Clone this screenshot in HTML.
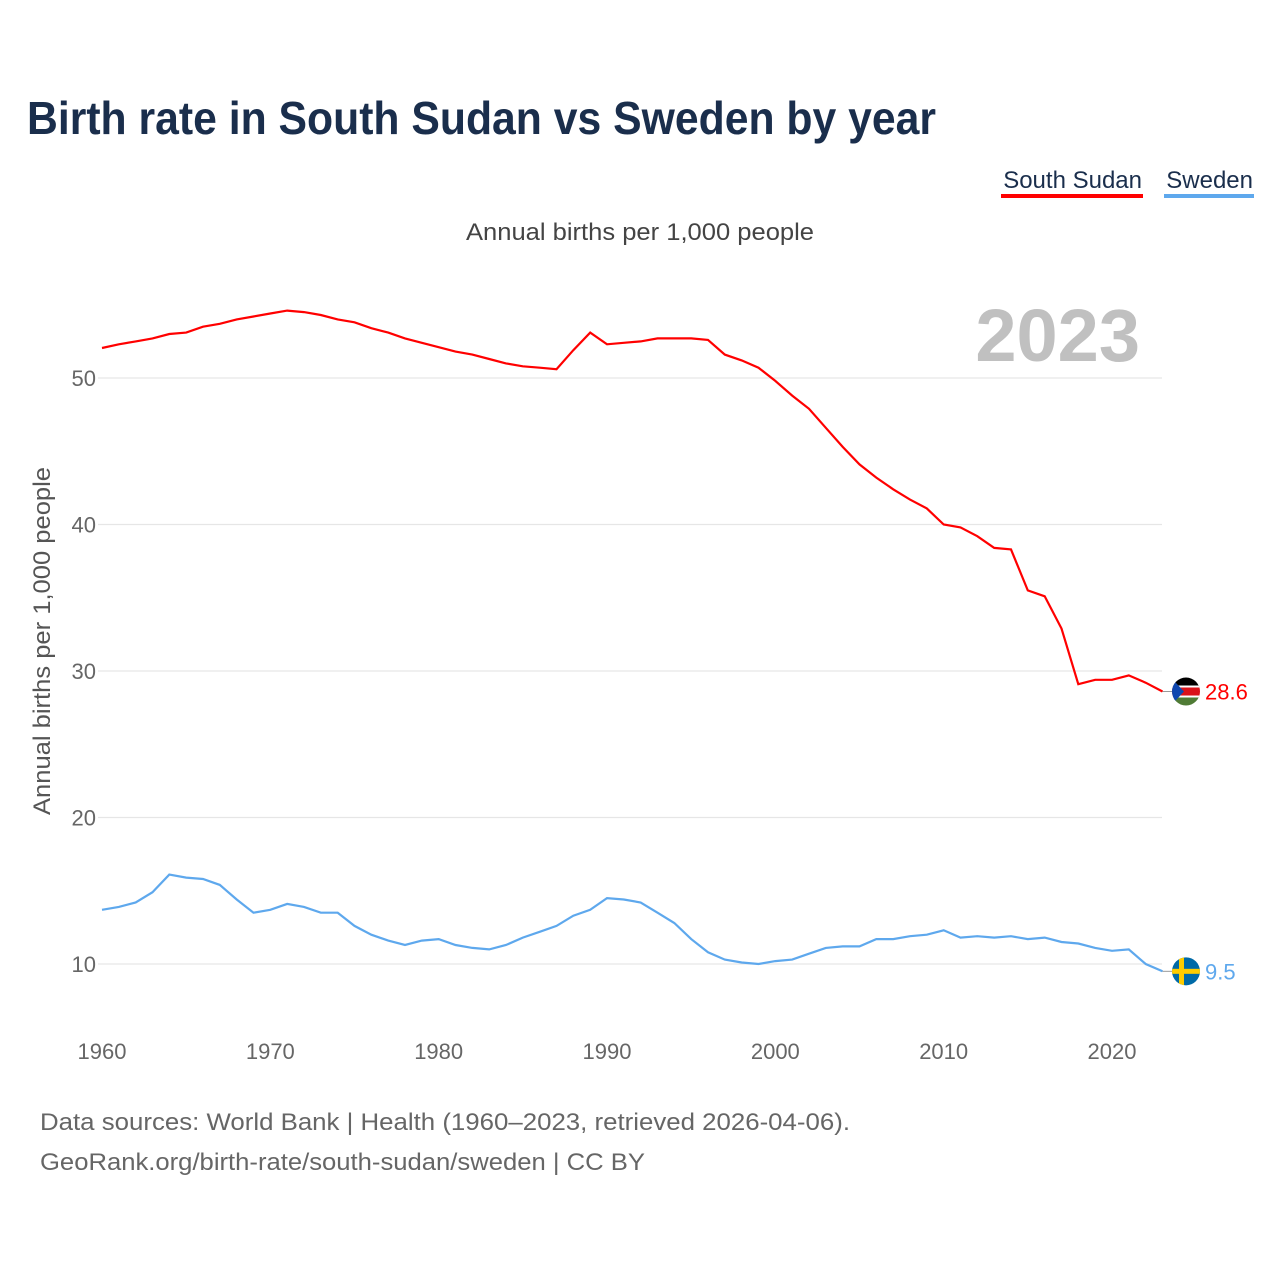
<!DOCTYPE html>
<html><head><meta charset="utf-8">
<style>
body{margin:0;background:#fff;font-family:"Liberation Sans",sans-serif;}
#wrap{position:relative;width:1280px;height:1280px;overflow:hidden;}
</style></head>
<body>
<div id="wrap">
<svg id="chart" width="1280" height="1280">
<text x="27" y="134" font-size="46" font-weight="bold" fill="#1a2e4c" textLength="909" lengthAdjust="spacingAndGlyphs">Birth rate in South Sudan vs Sweden by year</text>
<g>
<text x="1142" y="188" font-size="24" fill="#1a2e4c" text-anchor="end">South Sudan</text>
<rect x="1001" y="194" width="142" height="4" fill="#ff0000"/></g>
<g>
<text x="1253" y="188" font-size="24" fill="#1a2e4c" text-anchor="end">Sweden</text>
<rect x="1164" y="194" width="90" height="4" fill="#5ea8ed"/></g>
<text x="466" y="240" font-size="24" fill="#444" textLength="348" lengthAdjust="spacingAndGlyphs">Annual births per 1,000 people</text>
<text transform="translate(50,815) rotate(-90)" font-size="24" fill="#555" textLength="348" lengthAdjust="spacingAndGlyphs">Annual births per 1,000 people</text>
<text x="1140" y="361" font-size="74" font-weight="bold" fill="#c0c0c0" text-anchor="end">2023</text>
<g id="grid"></g><g id="lines"></g>
<text x="40" y="1130" font-size="24" fill="#666" textLength="810" lengthAdjust="spacingAndGlyphs">Data sources: World Bank | Health (1960–2023, retrieved 2026-04-06).</text>
<text x="40" y="1170" font-size="24" fill="#666" textLength="605" lengthAdjust="spacingAndGlyphs">GeoRank.org/birth-rate/south-sudan/sweden | CC BY</text>
</svg></div>
<script>
const years=[];for(let y=1960;y<=2023;y++)years.push(y);
const southSudan=[52.05,52.3,52.5,52.7,53.0,53.1,53.5,53.7,54.0,54.2,54.4,54.6,54.5,54.3,54.0,53.8,53.4,53.1,52.7,52.4,52.1,51.8,51.6,51.3,51.0,50.8,50.7,50.6,51.9,53.1,52.3,52.4,52.5,52.7,52.7,52.7,52.6,51.6,51.2,50.7,49.8,48.8,47.9,46.6,45.3,44.1,43.2,42.4,41.7,41.1,40.0,39.8,39.2,38.4,38.3,35.5,35.1,32.9,29.1,29.4,29.4,29.7,29.2,28.6];
const sweden=[13.7,13.9,14.2,14.9,16.1,15.9,15.8,15.4,14.4,13.5,13.7,14.1,13.9,13.5,13.5,12.6,12.0,11.6,11.3,11.6,11.7,11.3,11.1,11.0,11.3,11.8,12.2,12.6,13.3,13.7,14.5,14.4,14.2,13.5,12.8,11.7,10.8,10.3,10.1,10.0,10.2,10.3,10.7,11.1,11.2,11.2,11.7,11.7,11.9,12.0,12.3,11.8,11.9,11.8,11.9,11.7,11.8,11.5,11.4,11.1,10.9,11.0,10.0,9.5];
const yTicks=[10,20,30,40,50];
const xTicks=[1960,1970,1980,1990,2000,2010,2020];
const NS="http://www.w3.org/2000/svg";
const xs=y=>102+(y-1960)*(1010/60);
const ys=v=>964-(v-10)*(586/40);
function mk(t,a,p){const e=document.createElementNS(NS,t);for(const k in a)e.setAttribute(k,a[k]);p.appendChild(e);return e;}
const grid=document.getElementById('grid'),lines=document.getElementById('lines');
yTicks.forEach(v=>{
 const l=mk('line',{x1:98,x2:1162,y1:ys(v),y2:ys(v),stroke:'#e6e6e6','stroke-width':1.3},grid);
 
 
 const t=mk('text',{x:96,y:ys(v)+8,'font-size':22,fill:'#666','text-anchor':'end'},grid);t.textContent=v;
 
 
});
xTicks.forEach(v=>{
 const t=mk('text',{x:xs(v),y:1059,'font-size':22,fill:'#666','text-anchor':'middle'},grid);t.textContent=v;
 
 
});
function series(vals,color,name){
 const d=vals.map((v,i)=>(i?'L':'M')+xs(years[i]).toFixed(1)+','+ys(v).toFixed(1)).join(' ');
 const p=mk('path',{d:d,fill:'none',stroke:color,'stroke-width':2.2},lines);
 
 
 const last=vals[vals.length-1];
 mk('line',{x1:xs(2023),x2:1172,y1:ys(last),y2:ys(last),stroke:'#999','stroke-width':1},lines);
 return last;
}
const ss=series(southSudan,'#ff0000','south-sudan');
const sw=series(sweden,'#5ea8ed','sweden');
let cy=ys(ss);
let g=mk('g',{},lines);


const c1=mk('clipPath',{id:'c1'},g);mk('circle',{cx:1186,cy:cy,r:14},c1);
const fg=mk('g',{'clip-path':'url(#c1)'},g);
mk('rect',{x:1170,y:cy-15,width:32,height:10,fill:'#000'},fg);
mk('rect',{x:1170,y:cy-5,width:32,height:10,fill:'#da121a'},fg);
mk('rect',{x:1170,y:cy+5,width:32,height:10,fill:'#4f7b35'},fg);
mk('rect',{x:1170,y:cy-6,width:32,height:2,fill:'#fff'},fg);
mk('rect',{x:1170,y:cy+4,width:32,height:2,fill:'#fff'},fg);
mk('polygon',{points:`1170,${cy-15} 1184,${cy} 1170,${cy+15}`,fill:'#0f47af'},fg);
let t=mk('text',{x:1205,y:cy+8,'font-size':22,fill:'#ff0000'},lines);t.textContent=ss.toFixed(1);


cy=ys(sw);
g=mk('g',{},lines);


const c2=mk('clipPath',{id:'c2'},g);mk('circle',{cx:1186,cy:cy,r:14},c2);
const fg2=mk('g',{'clip-path':'url(#c2)'},g);
mk('rect',{x:1170,y:cy-15,width:32,height:30,fill:'#006aa7'},fg2);
mk('rect',{x:1170,y:cy-2.5,width:32,height:5,fill:'#fecc00'},fg2);
mk('rect',{x:1179,y:cy-15,width:5,height:30,fill:'#fecc00'},fg2);
t=mk('text',{x:1205,y:cy+8,'font-size':22,fill:'#5ea8ed'},lines);t.textContent=sw.toFixed(1);


</script>
</body></html>
